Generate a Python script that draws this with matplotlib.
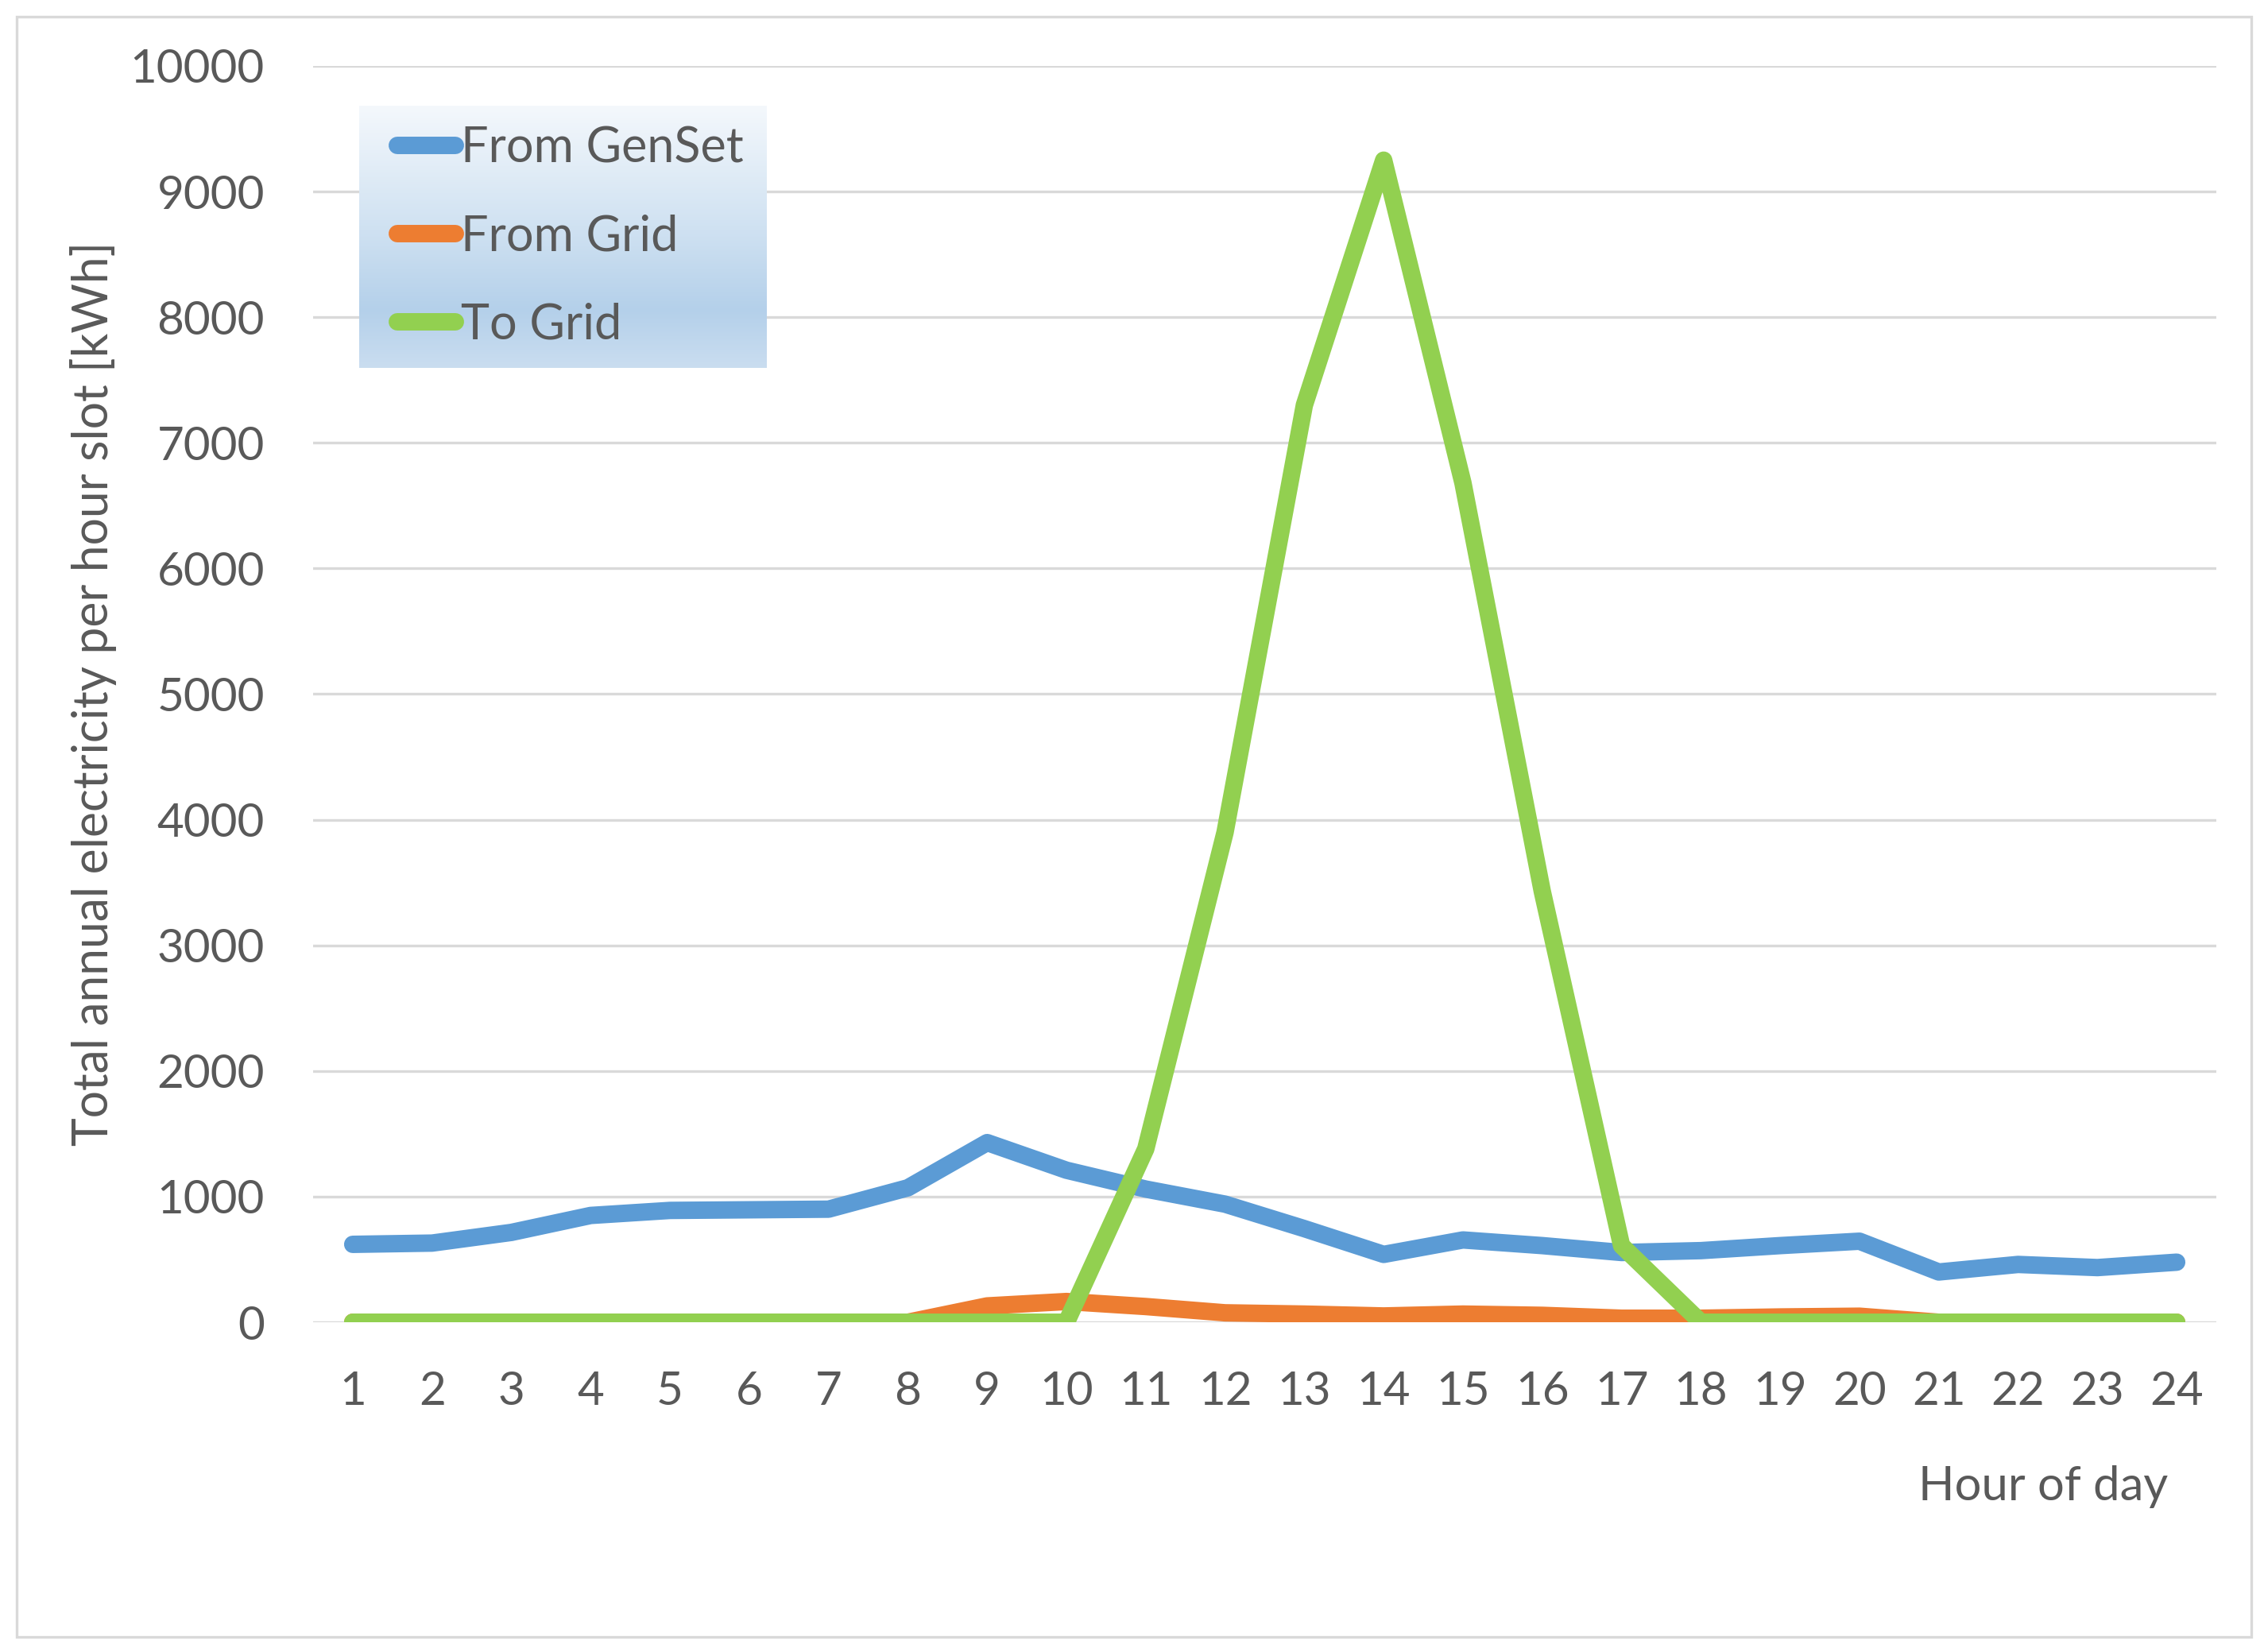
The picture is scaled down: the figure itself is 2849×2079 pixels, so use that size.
import numpy as np
import matplotlib
matplotlib.use("Agg")
import matplotlib.pyplot as plt
from matplotlib.patches import Rectangle

# hourly totals
hours = list(range(1, 25))
from_genset = [620, 630, 715, 850, 890, 895, 900, 1070, 1430, 1210, 1060, 940,
               745, 540, 655, 610, 555, 570, 610, 645, 400, 460, 435, 478]
from_grid = [0, 0, 0, 0, 0, 0, 0, 0, 130, 165, 125, 75,
             65, 50, 65, 55, 32, 32, 42, 48, 0, 0, 0, 0]
to_grid = [0, 0, 0, 0, 0, 0, 0, 0, 0, 0, 1380, 3900,
           7300, 9250, 6680, 3430, 610, 0, 0, 0, 0, 0, 0, 0]
series_names = ["From GenSet", "From Grid", "To Grid"]
series_colors = ["#5B9BD5", "#ED7D31", "#92D050"]
y_ticks = list(range(0, 10001, 1000))

W, H = 2849, 2079
DPI = 200
TXT = "#595959"
GRID = "#D9D9D9"
FS = 21

plt.rcParams['font.family'] = ['Lato', 'DejaVu Sans']

fig = plt.figure(figsize=(W / DPI, H / DPI), dpi=DPI)

# outer chart border
fig.patches.append(Rectangle((21 / W, 1 - 2060 / H), (2833 - 21) / W, (2060 - 21) / H,
                             transform=fig.transFigure, fill=False,
                             edgecolor=GRID, linewidth=1.2))

ax = fig.add_axes([394 / W, 1 - 1664 / H, (2789 - 394) / W, (1664 - 83) / H])
handles = []
for vals, name, col in zip([from_genset, from_grid, to_grid], series_names, series_colors):
    ln, = ax.plot(hours, vals, color=col, lw=7.9, label=name,
                  solid_capstyle='round', solid_joinstyle='round')
    handles.append(ln)

ax.set_xlim(0.5, 24.5)
ax.set_ylim(0, 10000)
ax.set_xticks(hours)
ax.set_xticklabels([str(h) for h in hours])
ax.set_yticks(y_ticks)
ax.set_yticklabels([str(v) for v in y_ticks])
ax.tick_params(axis='both', length=0, labelsize=FS, colors=TXT)
ax.tick_params(axis='y', pad=22)
ax.tick_params(axis='x', pad=22)
ax.grid(axis='y', color=GRID, lw=1.2)
ax.set_axisbelow(True)
for s in ax.spines.values():
    s.set_visible(False)

fig.text(118 / W, 1 - 873 / H, "Total annual electricity per hour slot [kWh]",
         rotation=90, ha='center', va='center', fontsize=21.8, color=TXT)
fig.text(2728 / W, 1 - 1888 / H, "Hour of day", ha='right', va='baseline',
         fontsize=21.5, color=TXT)

# legend box with light blue gradient
lax = fig.add_axes([452 / W, 1 - 463 / H, (965 - 452) / W, (463 - 133) / H])
stops_pos = [0.0, 0.5, 0.78, 1.0]
stops_col = [(0.957, 0.973, 0.988), (0.804, 0.878, 0.945),
             (0.706, 0.816, 0.918), (0.792, 0.867, 0.941)]
t = np.linspace(0, 1, 256)
grad = np.stack([np.interp(t, stops_pos, [c[i] for c in stops_col]) for i in range(3)], axis=-1)
lax.imshow(grad[:, None, :], aspect='auto', extent=[0, 1, 0, 1], origin='upper')
lax.set_xlim(0, 1)
lax.set_ylim(0, 1)
lax.axis('off')
lax.legend(handles, series_names, loc='center left', bbox_to_anchor=(0.094, 0.5),
           frameon=False, fontsize=22, labelcolor=TXT, handlelength=1.19,
           handletextpad=0.12, labelspacing=0.88, borderpad=0, borderaxespad=0)

fig.savefig("out.png", dpi=DPI)
